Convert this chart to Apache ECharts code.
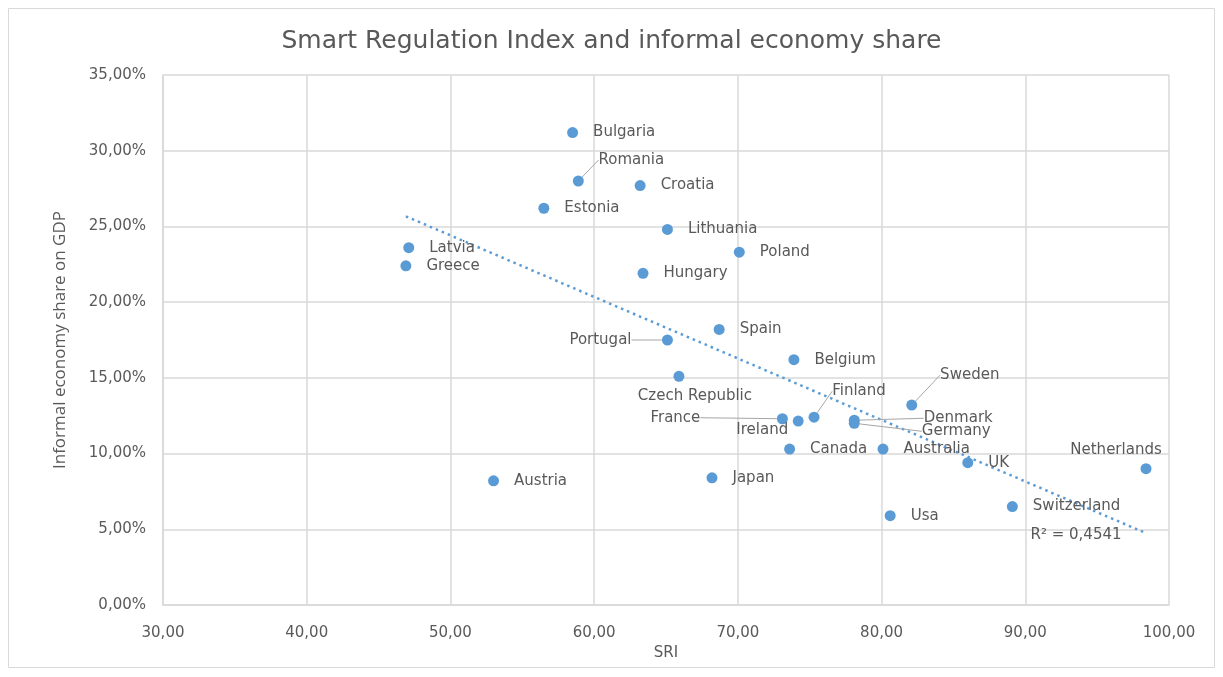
<!DOCTYPE html>
<html>
<head>
<meta charset="utf-8">
<script src="https://cdn.jsdelivr.net/npm/echarts@6/dist/echarts.min.js"></script>
<style>
html,body{margin:0;padding:0;background:#fff;}
#chart{width:1223px;height:677px;}
</style>
</head>
<body>
<div id="chart"></div>
<script>
// ---- data ----
const countries = ["Bulgaria","Romania","Croatia","Estonia","Lithuania","Latvia","Greece","Poland","Hungary","Spain","Portugal","Belgium","Czech Republic","Sweden","France","Ireland","Finland","Denmark","Germany","Canada","Australia","UK","Japan","Netherlands","Switzerland","Usa","Austria"];
const sri = [58.5,58.9,63.2,56.5,65.1,47.1,46.9,70.1,63.4,68.7,65.1,73.9,65.9,82.1,73.1,74.2,75.3,78.1,78.1,73.6,80.1,86.0,68.2,98.4,89.1,80.6,53.0];
const informalShare = [31.2,28.0,27.7,26.2,24.8,23.6,22.4,23.3,21.9,18.2,17.5,16.2,15.1,13.2,12.3,12.15,12.4,12.2,12.0,10.3,10.3,9.4,8.4,9.0,6.5,5.9,8.2];
const xTicks = [30,40,50,60,70,80,90,100];
const yTicks = [0,5,10,15,20,25,30,35];
const titleText = "Smart Regulation Index and informal economy share";
const xName = "SRI";
const yName = "Informal economy share on GDP";
const r2Text = "R² = 0,4541";

// ---- label layout (not data) ----
const labelPlacement = {
  "Romania": [53,-21,true],
  "Portugal": [-67,0,true],
  "Czech Republic": [16,20,false],
  "Sweden": [58,-30,true],
  "France": [-107,-1,true],
  "Ireland": [-36,9,false],
  "Finland": [45,-26,true],
  "Denmark": [104,-2,true],
  "Germany": [102,8,true],
  "Netherlands": [-30,-19,false]
};

// linear regression (trendline)
const n = sri.length;
const mx = sri.reduce((a,b)=>a+b,0)/n;
const my = informalShare.reduce((a,b)=>a+b,0)/n;
let sxy=0,sxx=0;
for(let i=0;i<n;i++){sxy+=(sri[i]-mx)*(informalShare[i]-my);sxx+=(sri[i]-mx)*(sri[i]-mx);}
const slope = sxy/sxx, icpt = my - slope*mx;
const xMin = Math.min(...sri), xMax = Math.max(...sri);

const labelColor = "#595959";
const font = "'DejaVu Sans', 'Open Sans', sans-serif";

const points = countries.map((c,i)=>{
  const p = labelPlacement[c];
  const item = {name:c, value:[sri[i], informalShare[i]]};
  if(p){
    item.label = {position:'inside', align:'center', verticalAlign:'middle'};
    item.labelLine = {show: p[2]};
  }
  return item;
});

const chart = echarts.init(document.getElementById('chart'), null, {renderer:'canvas'});
chart.setOption({
  animation:false,
  backgroundColor:'#fff',
  title:{
    text:titleText, left:'center', top:24,
    textStyle:{fontFamily:font, fontSize:25, fontWeight:'normal', color:labelColor}
  },
  grid:{left:163, right:54, top:75, bottom:72},
  xAxis:{
    type:'value', min:30, max:100, interval:10,
    name:xName, nameLocation:'middle', nameGap:41,
    nameTextStyle:{fontFamily:font, fontSize:15, color:labelColor},
    axisLine:{show:true, lineStyle:{color:'#D9D9D9', width:1.5}},
    axisTick:{show:false},
    axisLabel:{fontFamily:font, fontSize:15, color:labelColor, margin:21,
      formatter:v=>v.toFixed(2).replace('.',',')},
    splitLine:{show:true, lineStyle:{color:'#D9D9D9', width:1.5}}
  },
  yAxis:{
    type:'value', min:0, max:35, interval:5,
    name:yName, nameLocation:'middle', nameGap:94, nameRotate:90,
    nameTextStyle:{fontFamily:"'Liberation Sans Narrow', 'Open Sans', sans-serif", fontSize:17, color:labelColor},
    axisLine:{show:true, lineStyle:{color:'#D9D9D9', width:1.5}},
    axisTick:{show:false},
    axisLabel:{fontFamily:font, fontSize:15, color:labelColor, margin:17,
      formatter:v=>v.toFixed(2).replace('.',',')+'%'},
    splitLine:{show:true, lineStyle:{color:'#D9D9D9', width:1.5}}
  },
  graphic:[{
    type:'rect', shape:{x:8.5,y:8.5,width:1206,height:659},
    style:{fill:null, stroke:'#D9D9D9', lineWidth:1}, silent:true, z:-1
  }],
  series:[
    {
      type:'line',
      data:[
        {value:[xMin, icpt+slope*xMin]},
        {value:[xMax, icpt+slope*xMax], label:{show:true, formatter:r2Text, position:'inside', offset:[-70,2],
          fontFamily:font, fontSize:15, color:labelColor}}
      ],
      showSymbol:true, symbolSize:0, symbol:'circle',
      lineStyle:{color:'#5B9BD5', width:2.5, type:[2.5,4]},
      itemStyle:{color:'#5B9BD5'},
      z:3, silent:true
    },
    {
      type:'scatter',
      data:points,
      symbol:'circle', symbolSize:11,
      itemStyle:{color:'#5B9BD5', opacity:1},
      label:{show:true, position:'right', distance:15, formatter:'{b}',
        fontFamily:font, fontSize:15, color:labelColor},
      labelLine:{show:false, lineStyle:{color:'#A6A6A6', width:1}},
      labelLayout:function(params){
        const name = countries[params.dataIndex];
        const p = labelPlacement[name];
        if(p){ return {dx:p[0], dy:p[1]}; }
        return {};
      },
      z:4
    }
  ]
});
</script>
</body>
</html>
